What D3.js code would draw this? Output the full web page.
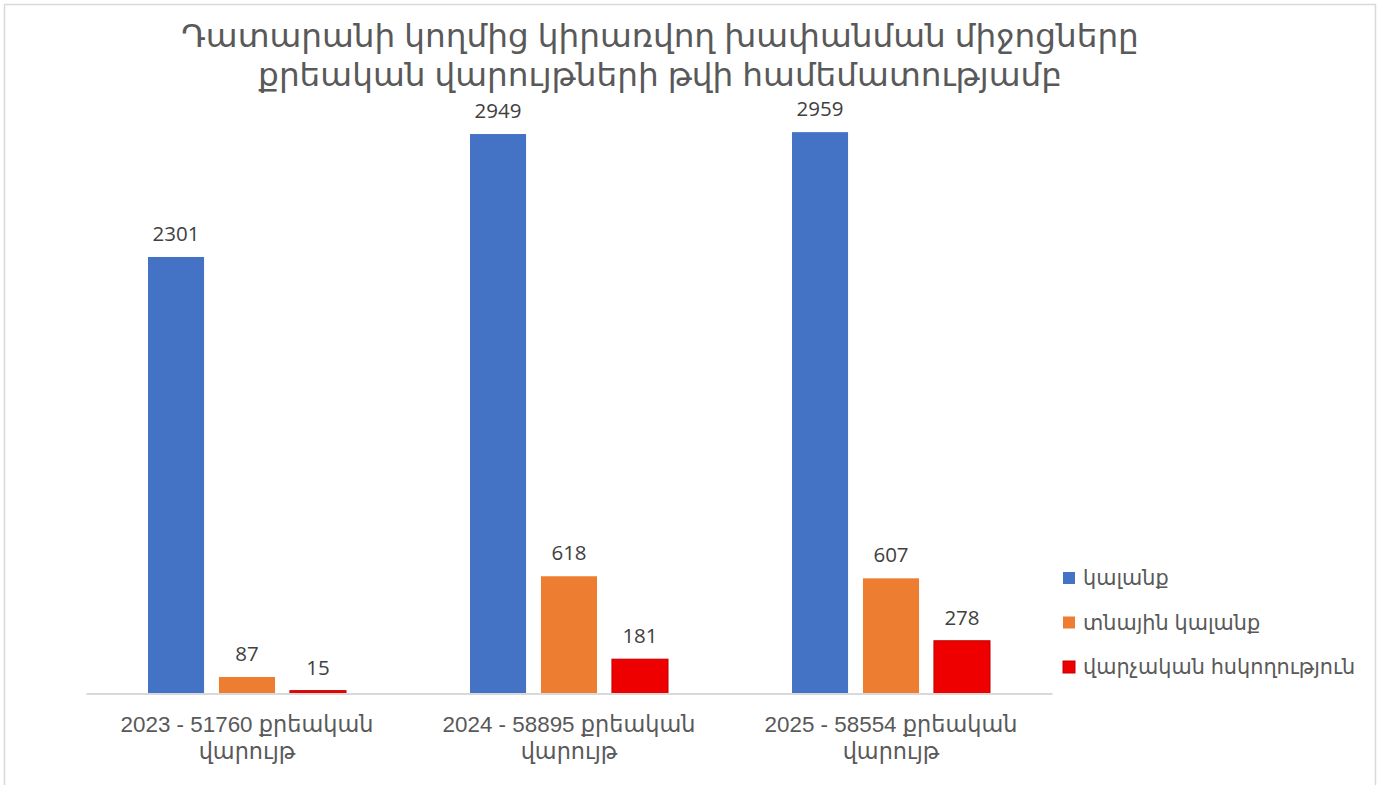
<!DOCTYPE html>
<html>
<head>
<meta charset="utf-8">
<script src="https://cdn.jsdelivr.net/npm/d3@7"></script>
<style>
  html, body { margin: 0; padding: 0; background: #fff; }
  svg { display: block; }
</style>
</head>
<body>
<svg id="chart" width="1381" height="785"></svg>
<script>
// Chart data
const titleLines = [
  "Դատարանի կողմից կիրառվող խափանման միջոցները",
  "քրեական վարույթների թվի համեմատությամբ"
];
const categories = [
  ["2023 - 51760 քրեական", "վարույթ"],
  ["2024 - 58895 քրեական", "վարույթ"],
  ["2025 - 58554 քրեական", "վարույթ"]
];
const seriesNames = ["կալանք", "տնային կալանք", "վարչական հսկողություն"];
const seriesColors = ["#4472C4", "#ED7D31", "#EE0000"];
const seriesStrokes = ["none", "none", "#C00000"];
const detention = [2301, 2949, 2959];
const houseArrest = [87, 618, 607];
const adminSupervision = [15, 181, 278];
const seriesValues = [detention, houseArrest, adminSupervision];
const yMax = 3500;

const svg = d3.select("#chart");
const font = "Arial, 'Liberation Sans', 'DejaVu Sans', sans-serif";

// Outer chart border
svg.append("rect")
  .attr("x", 4.5).attr("y", 4.5)
  .attr("width", 1371).attr("height", 800)
  .attr("fill", "#fff")
  .attr("stroke", "#d9d9d9").attr("stroke-width", 1.5);

// Title
svg.append("text")
  .attr("x", 660).attr("y", 47)
  .attr("text-anchor", "middle")
  .attr("font-family", font)
  .attr("font-size", 32.7)
  .attr("fill", "#595959")
  .selectAll("tspan")
  .data(titleLines)
  .join("tspan")
  .attr("x", 660)
  .attr("dy", (d, i) => i === 0 ? 0 : 39)
  .text(d => d);

// Scales
const plot = { left: 86, right: 1052, top: 29.5, bottom: 693.5 };
const x0 = d3.scaleBand()
  .domain(d3.range(categories.length))
  .range([plot.left, plot.right])
  .paddingInner(0).paddingOuter(0);
const x1 = d3.scaleBand()
  .domain(d3.range(seriesNames.length))
  .range([62, x0.bandwidth() - 62])
  .paddingInner(0.21);
const y = d3.scaleLinear().domain([0, yMax]).range([plot.bottom, plot.top]);

// Bars
const groups = svg.append("g").selectAll("g")
  .data(categories.map((c, i) => i))
  .join("g")
  .attr("transform", i => `translate(${x0(i)},0)`);

groups.selectAll("rect")
  .data(i => seriesValues.map((vals, s) => ({ s, v: vals[i] })))
  .join("rect")
  .attr("x", d => x1(d.s))
  .attr("y", d => y(d.v))
  .attr("width", x1.bandwidth())
  .attr("height", d => y(0) - y(d.v))
  .attr("fill", d => seriesColors[d.s])
  .attr("stroke", d => seriesStrokes[d.s])
  .attr("stroke-width", 1);

// Value labels
groups.selectAll("text")
  .data(i => seriesValues.map((vals, s) => ({ s, v: vals[i] })))
  .join("text")
  .attr("x", d => x1(d.s) + x1.bandwidth() / 2)
  .attr("y", d => y(d.v) - 16)
  .attr("text-anchor", "middle")
  .attr("font-family", "'Open Sans', 'Liberation Sans', sans-serif")
  .attr("font-size", 20.5)
  .attr("fill", "#404040")
  .text(d => d.v);

// Baseline axis
const xAxis = d3.axisBottom(x0).tickSize(0).tickFormat("");
const axisG = svg.append("g")
  .attr("transform", `translate(0,${plot.bottom})`)
  .call(xAxis);
axisG.select(".domain").attr("stroke", "#d9d9d9").attr("stroke-width", 2);

// Category labels
svg.append("g").selectAll("text")
  .data(categories.map((c, i) => ({ c, i })))
  .join("text")
  .attr("text-anchor", "middle")
  .attr("font-family", font)
  .attr("font-size", 22.4)
  .attr("fill", "#595959")
  .attr("y", 732)
  .each(function (d) {
    const cx = x0(d.i) + x0.bandwidth() / 2;
    d3.select(this).selectAll("tspan")
      .data(d.c)
      .join("tspan")
      .attr("x", cx)
      .attr("dy", (t, k) => k === 0 ? 0 : 27)
      .text(t => t);
  });

// Legend
const legend = svg.append("g").selectAll("g")
  .data(seriesNames.map((n, i) => ({ n, i })))
  .join("g")
  .attr("transform", d => `translate(1063,${578 + d.i * 44.5})`);
legend.append("rect")
  .attr("x", 0).attr("y", -6)
  .attr("width", 12).attr("height", 12)
  .attr("fill", d => seriesColors[d.i])
  .attr("stroke", d => seriesStrokes[d.i]);
legend.append("text")
  .attr("x", 20).attr("y", 7)
  .attr("font-family", font)
  .attr("font-size", 20.8)
  .attr("fill", "#595959")
  .text(d => d.n);
</script>
</body>
</html>
